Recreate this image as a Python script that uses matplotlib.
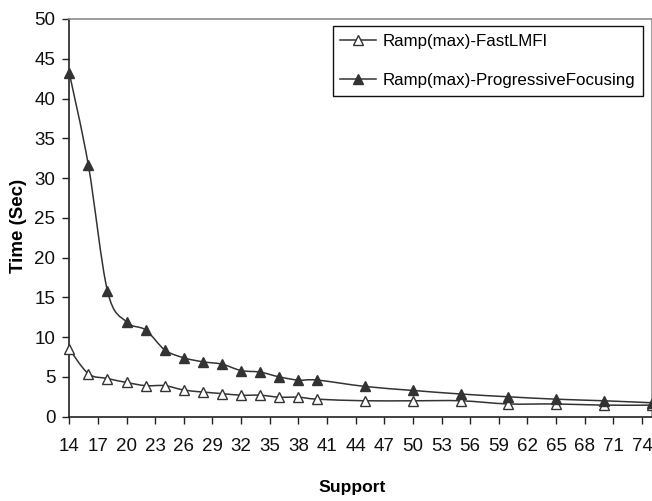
import matplotlib
matplotlib.use('Agg')
import matplotlib.pyplot as plt
from matplotlib.path import Path
from matplotlib.patches import PathPatch
from matplotlib.lines import Line2D
import numpy as np

# support values and run times (sec)
support = [14, 16, 18, 20, 22, 24, 26, 28, 30, 32, 34, 36, 38, 40, 45, 50, 55, 60, 65, 70, 75]
fast_lmfi = [8.5, 5.4, 4.8, 4.3, 3.9, 3.9, 3.35, 3.1, 2.9, 2.7, 2.7, 2.45, 2.45, 2.2,
             2.0, 2.0, 2.0, 1.6, 1.6, 1.45, 1.45]
prog_focus = [43.2, 31.6, 15.8, 11.9, 10.9, 8.4, 7.4, 6.9, 6.6, 5.8, 5.6, 5.0, 4.6, 4.6,
              3.8, 3.3, 2.85, 2.5, 2.2, 2.0, 1.75]
xticks = list(range(14, 75, 3))
yticks = list(range(0, 51, 5))

LINE = '#333333'
plt.rcParams['font.family'] = ['Liberation Sans', 'DejaVu Sans']


def smooth_path(x, y):
    # excel style smoothed line: catmull-rom segments as cubic beziers
    pts = np.column_stack([x, y]).astype(float)
    n = len(pts)
    verts = [pts[0]]
    codes = [Path.MOVETO]
    for i in range(n - 1):
        p0 = pts[max(i - 1, 0)]
        p1 = pts[i]
        p2 = pts[i + 1]
        p3 = pts[min(i + 2, n - 1)]
        c1 = p1 + (p2 - p0) / 6.0
        c2 = p2 - (p3 - p1) / 6.0
        verts += [c1, c2, p2]
        codes += [Path.CURVE4] * 3
    return Path(verts, codes)


fig = plt.figure(figsize=(6.52, 5.01), dpi=100)
ax = fig.add_axes([0.1063, 0.1683, 0.893, 0.7938])

for ys, face in [(fast_lmfi, 'white'), (prog_focus, LINE)]:
    ax.add_patch(PathPatch(smooth_path(support, ys), fill=False, edgecolor=LINE,
                           lw=1.1, clip_on=False, zorder=2))
    ax.plot(support, ys, linestyle='none', marker='^', markersize=7,
            markerfacecolor=face, markeredgecolor=LINE, markeredgewidth=1.0,
            clip_on=False, zorder=3)

ax.set_xlim(14, 75)
ax.set_ylim(0, 50)
ax.set_xticks(xticks)
ax.set_yticks(yticks)
ax.tick_params(axis='both', direction='out', length=5, width=1, color='#222222',
               labelsize=13.5, labelcolor='#111111')
ax.tick_params(axis='x', pad=10)
ax.tick_params(axis='y', pad=5)

for s in ['left', 'bottom']:
    ax.spines[s].set_color('#222222')
    ax.spines[s].set_linewidth(1.2)
for s in ['top', 'right']:
    ax.spines[s].set_color('#8c8c8c')
    ax.spines[s].set_linewidth(1.2)

ax.set_xlabel('Support', fontsize=12.6, fontweight='bold')
ax.xaxis.set_label_coords(0.486, -0.177)
ax.xaxis.label.set_va('center')
ax.set_ylabel('Time (Sec)', fontsize=13.5, fontweight='bold')
ax.yaxis.set_label_coords(-0.088, 0.48)
ax.yaxis.label.set_va('center')

handles = [
    Line2D([], [], color=LINE, lw=1.1, marker='^', markersize=7,
           markerfacecolor='white', markeredgecolor=LINE),
    Line2D([], [], color=LINE, lw=1.1, marker='^', markersize=7,
           markerfacecolor=LINE, markeredgecolor=LINE),
]
leg = ax.legend(handles, ['Ramp(max)-FastLMFI', 'Ramp(max)-ProgressiveFocusing'],
                loc='upper right', bbox_to_anchor=(0.9854, 0.9824), borderaxespad=0,
                fontsize=12.2, fancybox=False, framealpha=1, edgecolor='#111111',
                handlelength=2.1, handletextpad=0.4, labelspacing=1.45,
                borderpad=0.45)
leg.get_frame().set_linewidth(1.0)

fig.savefig('out.png', dpi=100)
